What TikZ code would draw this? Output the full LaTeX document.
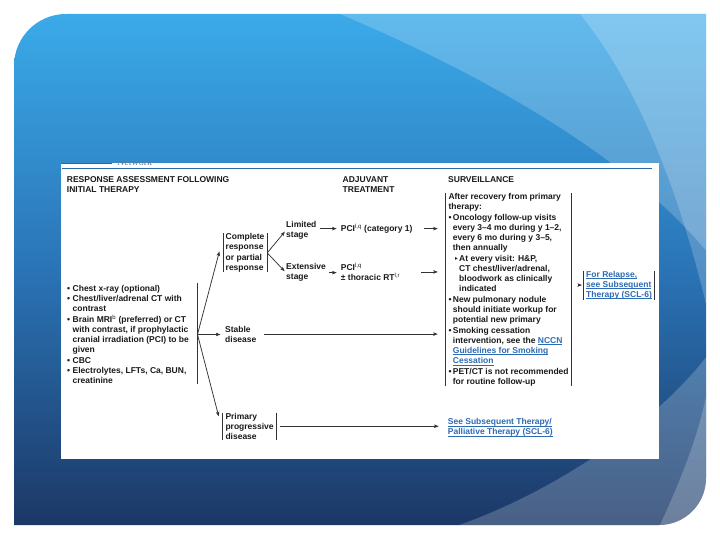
\documentclass[tikz,border=0pt]{standalone}
\usepackage{fontspec}
\setmainfont{Liberation Sans}
\newfontfamily\dejavu{DejaVu Sans}
\newfontfamily\serifnet{Liberation Serif}
\usetikzlibrary{arrows.meta,calc}
\definecolor{ctext}{HTML}{1A1A1A}
\definecolor{clink}{HTML}{2D6BB3}
\definecolor{crule}{HTML}{2A6AA8}
\definecolor{cline}{HTML}{333333}
\definecolor{cnet}{HTML}{6A7480}
\definecolor{ptop}{HTML}{3BAAE9}
\definecolor{pmid}{HTML}{2A74B6}
\definecolor{pbot}{HTML}{1C3866}
\newcommand\Lines[1]{\vtop{\baselineskip=10.27pt\lineskiplimit=-20pt\lineskip=0pt\relax #1}}
\newcommand\R[1]{\hbox{#1}}
\newcommand\Bl{\hbox to 5.5pt{\textbullet\hss}}
\newcommand\In{\hskip5.5pt\relax}
\newcommand\Bs{\hbox to 4.4pt{\textbullet\hss}}
\newcommand\Is{\hskip4.4pt\relax}
\newcommand\Iss{\hskip10.7pt\relax}
\newcommand\Tri{\hskip5.5pt\relax\hbox to 5.2pt{{\dejavu\fontsize{7}{7}\selectfont\symbol{"2023}}\hss}}
\newcommand\Lk[1]{\textcolor{clink}{\setbox0\hbox{#1}\rlap{\rule[-1.5pt]{\wd0}{0.6pt}}\box0}}
\newcommand\Sup[1]{\textsuperscript{\mdseries #1}}
\tikzset{
  tx/.style={font=\bfseries\fontsize{8.5}{10.27}\selectfont, text=ctext, inner sep=0pt, anchor=base west},
  brk/.style={tx, inner xsep=2.6pt},
  arr/.style={draw=cline, line width=0.75pt, -{Stealth[length=4.5pt,width=3.4pt,inset=0.8pt]}},
  bar/.style={draw=cline, line width=0.75pt},
}
\begin{document}
\begin{tikzpicture}[x=1pt,y=-1pt]
\useasboundingbox (0,0) rectangle (720,540);
\fill[white] (0,0) rectangle (720,540);
% slide panel
\shade[top color=ptop, bottom color=pbot, middle color=pmid]
  (14,525) -- (14,66) .. controls (14,37.3) and (37.3,14) .. (66,14) -- (706,14) -- (706,478) .. controls (706,504) and (685,525) .. (659,525) -- cycle;
\begin{scope}
  \clip (14,525) -- (14,66) .. controls (14,37.3) and (37.3,14) .. (66,14) -- (706,14) -- (706,478) .. controls (706,504) and (685,525) .. (659,525) -- cycle;
  \fill[white, opacity=0.2] (340,14) .. controls (520,90) and (680,190) .. (740,300) .. controls (700,400) and (560,490) .. (459,525) -- (720,540) -- (720,0) -- (340,0) -- cycle;
  \fill[white, opacity=0.2] (580,14) .. controls (650,100) and (690,230) .. (712,330) .. controls (715,400) and (685,470) .. (660,525) -- (720,540) -- (720,0) -- (580,0) -- cycle;
\end{scope}
% white sheet
\fill[white] (60.7,162.7) rectangle (659.3,459);
\fill[crule] (60.7,162.7) rectangle (111.7,164.3);
\begin{scope}
  \clip (60.7,162.7) rectangle (659.3,459);
  \node[font=\serifnet\fontsize{10}{10}\selectfont, text=cnet, anchor=base west, inner sep=0pt] (net) at (117,165.3) {Network};
\end{scope}
\draw[crule, line width=1.1pt] (62,168.8) -- (652,168.8);
% headers
\node[tx] (h1) at (66.7,182.3) {\Lines{\R{RESPONSE ASSESSMENT FOLLOWING}\R{INITIAL THERAPY}}};
\node[tx] (h2) at (342.5,182.3) {\Lines{\R{ADJUVANT}\R{TREATMENT}}};
\node[tx] (h3) at (448,182.3) {SURVEILLANCE};
% nodes
\node[tx] (list) at (67,291.3) {\Lines{%
  \R{\Bl Chest x-ray (optional)}%
  \R{\Bl Chest/liver/adrenal CT with}%
  \R{\In contrast}%
  \R{\Bl Brain MRI\Sup{b} (preferred) or CT}%
  \R{\In with contrast, if prophylactic}%
  \R{\In cranial irradiation (PCI) to be}%
  \R{\In given}%
  \R{\Bl CBC}%
  \R{\Bl Electrolytes, LFTs, Ca, BUN,}%
  \R{\In creatinine}}};
\coordinate (J) at ($(list.east)+(8.4,0)$);
\node[brk] (cr) at (222.9,239.7) {\Lines{\R{Complete}\R{response}\R{or partial}\R{response}}};
\node[tx] (ls) at (286,227.3) {\Lines{\R{Limited}\R{stage}}};
\node[tx] (es) at (286,269.7) {\Lines{\R{Extensive}\R{stage}}};
\node[tx] (pci1) at (340.7,231.3) {PCI\Sup{l,q} (category 1)};
\node[tx] (pci2) at (340.7,270.3) {\Lines{\R{PCI\Sup{l,q}}\R{± thoracic RT\Sup{l,r}}}};
\node[tx] (sd) at (225,332) {\Lines{\R{Stable}\R{disease}}};
\node[brk] (pp) at (222.7,419) {\Lines{\R{Primary}\R{progressive}\R{disease}}};
\node[brk, inner xsep=3pt] (sv) at (445.3,199.5) {\Lines{%
  \R{After recovery from primary}%
  \R{therapy:}%
  \R{\Bs Oncology follow-up visits}%
  \R{\Is every 3–4 mo during y 1–2,}%
  \R{\Is every 6 mo during y 3–5,}%
  \R{\Is then annually}%
  \R{\Tri At every visit: H\&P,}%
  \R{\Iss CT chest/liver/adrenal,}%
  \R{\Iss bloodwork as clinically}%
  \R{\Iss indicated}%
  \R{\Bs New pulmonary nodule}%
  \R{\Is should initiate workup for}%
  \R{\Is potential new primary}%
  \R{\Bs Smoking cessation}%
  \R{\Is intervention, see the \Lk{NCCN}}%
  \R{\Is \Lk{Guidelines for Smoking}}%
  \R{\Is \Lk{Cessation}}%
  \R{\Bs PET/CT is not recommended}%
  \R{\Is for routine follow-up}}};
\node[brk, inner xsep=2.7pt] (rl) at (583.3,277) {\Lines{\R{\Lk{For Relapse,}}\R{\Lk{see Subsequent}}\R{\Lk{Therapy (SCL-6)}}}};
\node[tx] (ss) at (447.7,424.7) {\Lines{\R{\Lk{See Subsequent Therapy/}}\R{\Lk{Palliative Therapy (SCL-6)}}}};
% bracket bars
\draw[bar] ($(list.north east)+(8.4,-2)$) -- ($(list.south east)+(8.4,0)$);
\foreach \n in {cr,pp,sv,rl}{
  \draw[bar] (\n.north west) -- (\n.south west);
  \draw[bar] (\n.north east) -- (\n.south east);
}
% connectors
\coordinate (crin) at ($(cr.west)+(-3.5,-1.5)$);
\coordinate (ppin) at ($(pp.north west)+(-4,3.7)$);
\draw[arr] (J) -- (crin);
\draw[arr, shorten >=4.5pt] (J) -- (J -| sd.west);
\draw[arr] (J) -- (ppin);
\draw[arr, shorten >=1.8pt] (cr.east) -- (ls.west);
\draw[arr, shorten >=2pt] (cr.east) -- (es.west);
\draw[arr, shorten <=3.8pt, shorten >=4pt] (pci1.west -| ls.east) -- (pci1.west);
\draw[arr, shorten <=3pt, shorten >=4pt] (es.east) -- (es.east -| pci2.west);
\draw[arr, shorten <=11pt, shorten >=7.5pt] (pci1.east) -- (pci1.east -| sv.west);
\draw[arr, shorten <=21pt, shorten >=7.5pt] (pci2.east) -- (pci2.east -| sv.west);
\draw[arr, shorten <=7pt, shorten >=7.5pt] (sd.east) -- (sd.east -| sv.west);
\draw[arr, shorten <=4pt, shorten >=9pt] (pp.east) -- (pp.east -| ss.west);
\draw[arr, shorten <=6pt, shorten >=1.3pt] (rl.west -| sv.east) -- (rl.west);
\end{tikzpicture}
\end{document}
